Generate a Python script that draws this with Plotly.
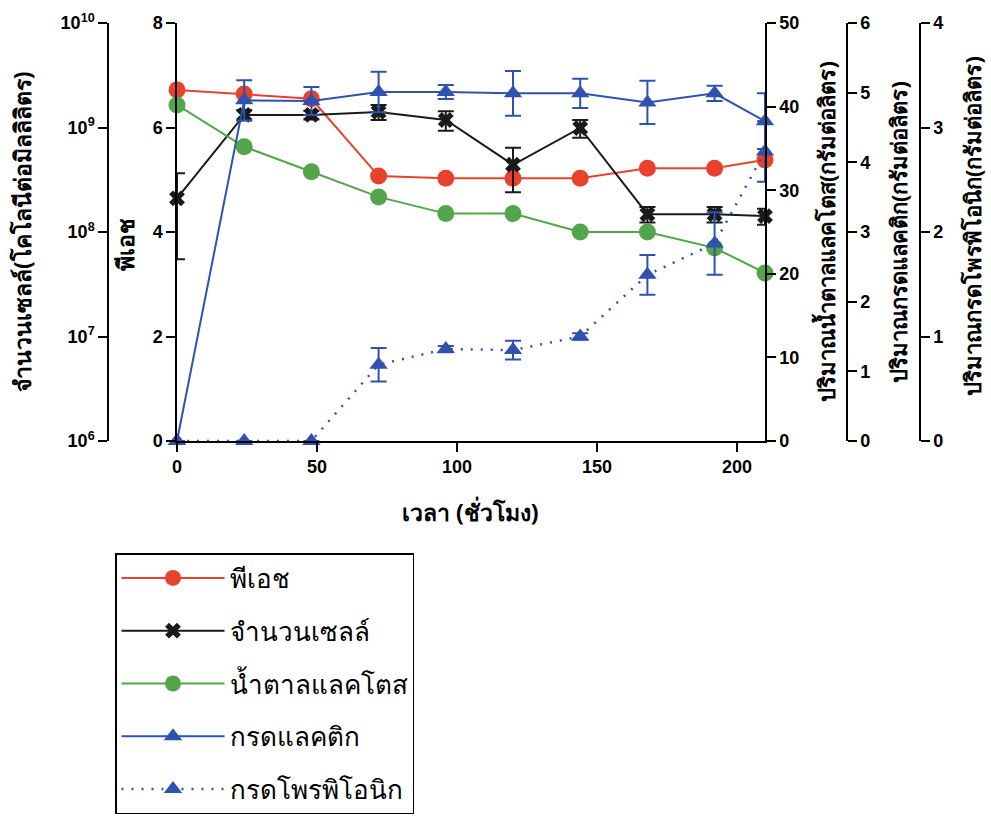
import plotly.graph_objects as go

# ---- data ----
time_h = [0, 24, 48, 72, 96, 120, 144, 168, 192, 210]
ph = [6.72, 6.64, 6.55, 5.07, 5.03, 5.03, 5.03, 5.22, 5.22, 5.38]
cells = [2.1e8, 1.32e9, 1.32e9, 1.41e9, 1.18e9, 4.4e8, 9.9e8, 1.48e8, 1.48e8, 1.42e8]
cells_err = [1.55e8, 1.5e8, 1.3e8, 2.3e8, 2.5e8, 2.0e8, 1.9e8, 2.5e7, 2.5e7, 2.5e7]
lactose = [40.2, 35.2, 32.2, 29.2, 27.2, 27.2, 25.0, 25.0, 23.1, 20.1]
lactic = [0, 4.89, 4.88, 5.01, 5.01, 4.99, 4.99, 4.86, 4.99, 4.59]
lactic_err = [0, 0.29, 0.2, 0.29, 0.1, 0.32, 0.21, 0.31, 0.11, 0.4]
propionic = [0, 0, 0, 0.73, 0.88, 0.87, 1.0, 1.59, 1.89, 2.77]
propionic_err = [0, 0, 0, 0.16, 0.03, 0.09, 0.03, 0.19, 0.3, 0.29]

log_tickvals = [1e6, 1e7, 1e8, 1e9, 1e10]
log_ticktext = ["10<sup>6</sup>", "10<sup>7</sup>", "10<sup>8</sup>", "10<sup>9</sup>", "10<sup>10</sup>"]

names = ["พีเอช", "จำนวนเซลล์", "น้ำตาลแลคโตส", "กรดแลคติก", "กรดโพรพิโอนิก"]
x_title = "เวลา (ชั่วโมง)"
y_titles = ["จำนวนเซลล์(โคโลนีต่อมิลลิลิตร)", "พีเอช",
            "ปริมาณน้ำตาลแลคโตส(กรัมต่อลิตร)", "ปริมาณกรดแลคติก(กรัมต่อลิตร)",
            "ปริมาณกรดโพรพิโอนิก(กรัมต่อลิตร)"]

RED = "#E8412E"
GREEN = "#52A54A"
BLUE = "#2E52AE"
BLACK = "#1a1a1a"

W, H = 991, 823
ML, MR, MT, MB = 60, 40, 23, 382
PW = W - ML - MR
PH_ = H - MT - MB


def px_x(p):
    return (p - ML) / PW


def px_y(p):
    return (H - MB - p) / PH_


fig = go.Figure()

fig.add_trace(go.Scatter(
    x=time_h, y=ph, yaxis="y", name=names[0], legendgroup="a",
    mode="lines+markers", line=dict(color=RED, width=2),
    marker=dict(symbol="circle", size=17, color=RED), cliponaxis=False))
fig.add_trace(go.Scatter(
    x=time_h, y=cells, yaxis="y2", name=names[1], legendgroup="b",
    mode="lines+markers", line=dict(color=BLACK, width=2),
    marker=dict(symbol="x", size=14, color=BLACK),
    error_y=dict(type="data", array=cells_err, color=BLACK, thickness=2, width=8),
    cliponaxis=False))
fig.add_trace(go.Scatter(
    x=time_h, y=lactose, yaxis="y3", name=names[2], legendgroup="c",
    mode="lines+markers", line=dict(color=GREEN, width=2),
    marker=dict(symbol="circle", size=17, color=GREEN), cliponaxis=False))
fig.add_trace(go.Scatter(
    x=time_h, y=lactic, yaxis="y4", name=names[3], legendgroup="d",
    mode="lines+markers", line=dict(color=BLUE, width=2),
    marker=dict(symbol="triangle-up", size=16, color=BLUE),
    error_y=dict(type="data", array=lactic_err, color=BLUE, thickness=2, width=8),
    cliponaxis=False))
fig.add_trace(go.Scatter(
    x=time_h, y=propionic, yaxis="y5", name=names[4], legendgroup="e",
    mode="lines+markers", line=dict(color=BLUE, width=2.5, dash="2px,8px"),
    marker=dict(symbol="triangle-up", size=16, color=BLUE),
    error_y=dict(type="data", array=propionic_err, color=BLUE, thickness=2, width=8),
    cliponaxis=False))

tickfont = dict(family="Liberation Sans, Arial, sans-serif", size=18, color="black", weight="bold")
axis_common = dict(showline=True, linecolor="black", linewidth=1.5, ticks="outside",
                   ticklen=9, tickwidth=1.5, tickcolor="black", showgrid=False,
                   zeroline=False, tickfont=tickfont)

fig.update_layout(
    width=W, height=H,
    margin=dict(l=ML, r=MR, t=MT, b=MB, autoexpand=False),
    paper_bgcolor="white", plot_bgcolor="white",
    xaxis=dict(domain=[px_x(177), px_x(765)], range=[0, 210], tickvals=[0, 50, 100, 150, 200],
               **axis_common),
    yaxis=dict(range=[0, 8], dtick=2, anchor="x", side="left", **axis_common),
    yaxis2=dict(type="log", range=[6, 10], tickvals=log_tickvals, ticktext=log_ticktext,
                overlaying="y", anchor="free", position=px_x(108), side="left", **axis_common),
    yaxis3=dict(range=[0, 50], dtick=10, overlaying="y", anchor="x", side="right", **axis_common),
    yaxis4=dict(range=[0, 6], dtick=1, overlaying="y", anchor="free", position=px_x(847),
                side="right", **axis_common),
    yaxis5=dict(range=[0, 4], dtick=1, overlaying="y", anchor="free", position=px_x(920),
                side="right", **axis_common),
    showlegend=True,
    legend=dict(x=px_x(115), y=px_y(553), xanchor="left", yanchor="top",
                bordercolor="black", borderwidth=1.5, bgcolor="white",
                font=dict(family="Noto Sans, DejaVu Sans, sans-serif", size=26, color="black"),
                traceorder="grouped", tracegroupgap=16, itemwidth=103),
)

title_font = dict(family="Noto Sans, DejaVu Sans, sans-serif", size=23, color="black", weight="bold")
ann = [
    (22, 232, y_titles[0], -90, 23),
    (125, 245, y_titles[1], -90, 23),
    (826, 232, y_titles[2], -90, 22),
    (898, 232, y_titles[3], -90, 22),
    (972, 226, y_titles[4], -90, 22),
    (470, 512, x_title, 0, 23),
]
for (ax, ay, txt, ang, fs) in ann:
    f = dict(title_font)
    f["size"] = fs
    fig.add_annotation(x=px_x(ax), y=px_y(ay), xref="paper", yref="paper", text=txt,
                       showarrow=False, textangle=ang, font=f,
                       xanchor="center", yanchor="middle")

fig.write_html("out.html")
